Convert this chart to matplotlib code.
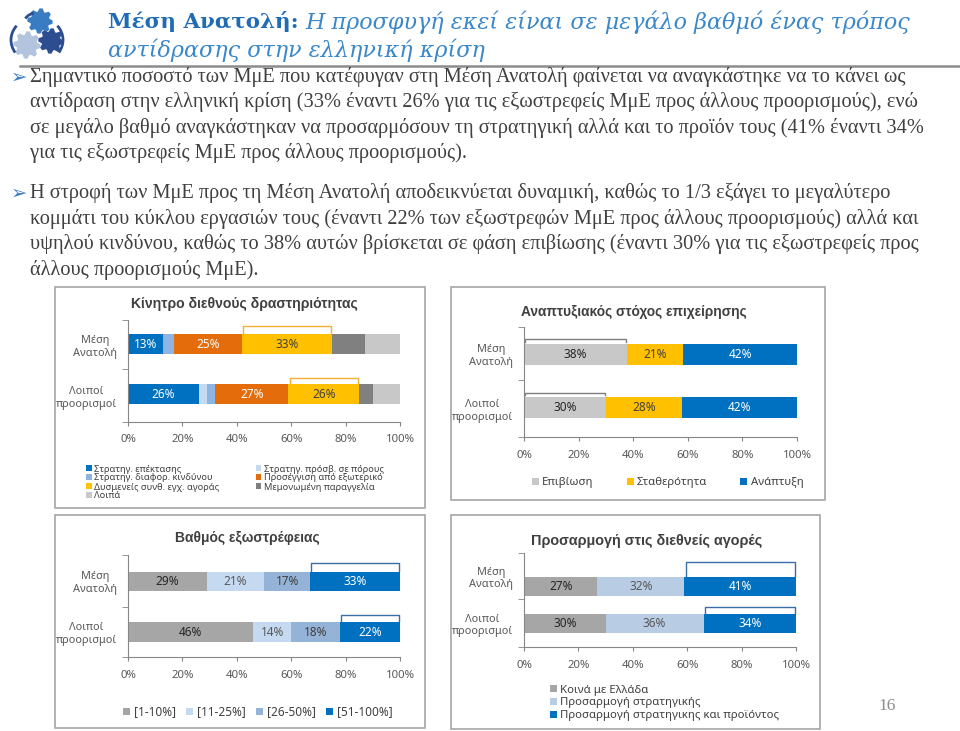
import numpy as np
import matplotlib
matplotlib.use("Agg")
import matplotlib.pyplot as plt
from matplotlib.patches import Rectangle, Polygon, Arc
from matplotlib.lines import Line2D

W, H = 960, 731

# ---- data ----
row_names = ["Μέση\nΑνατολή", "Λοιποί\nπροορισμοί"]

motive_series = ["Στρατηγ. επέκτασης", "Στρατηγ. πρόσβ. σε πόρους", "Στρατηγ. διαφορ. κινδύνου",
                 "Προσέγγιση από εξωτερικό", "Δυσμενείς συνθ. εγχ. αγοράς", "Μεμονωμένη παραγγελία", "Λοιπά"]
motive_me = [13, 0, 4, 25, 33, 12, 13]
motive_other = [26, 3, 3, 27, 26, 5, 10]

goal_series = ["Επιβίωση", "Σταθερότητα", "Ανάπτυξη"]
goal_me = [38, 21, 42]
goal_other = [30, 28, 42]

export_series = ["[1-10%]", "[11-25%]", "[26-50%]", "[51-100%]"]
export_me = [29, 21, 17, 33]
export_other = [46, 14, 18, 22]

adapt_series = ["Κοινά με Ελλάδα", "Προσαρμογή στρατηγικής", "Προσαρμογή στρατηγικης και προϊόντος"]
adapt_me = [27, 32, 41]
adapt_other = [30, 36, 34]

title_bold = "Μέση Ανατολή:"
title_it = ["Η προσφυγή εκεί είναι σε μεγάλο βαθμό ένας τρόπος", "αντίδρασης στην ελληνική κρίση"]

para1 = ["Σημαντικό ποσοστό των ΜμΕ που κατέφυγαν στη Μέση Ανατολή φαίνεται να αναγκάστηκε να το κάνει ως",
         "αντίδραση στην ελληνική κρίση (33% έναντι 26% για τις εξωστρεφείς ΜμΕ προς άλλους προορισμούς), ενώ",
         "σε μεγάλο βαθμό αναγκάστηκαν να προσαρμόσουν τη στρατηγική αλλά και το προϊόν τους (41% έναντι 34%",
         "για τις εξωστρεφείς ΜμΕ προς άλλους προορισμούς)."]
para2 = ["Η στροφή των ΜμΕ προς τη Μέση Ανατολή αποδεικνύεται δυναμική, καθώς το 1/3 εξάγει το μεγαλύτερο",
         "κομμάτι του κύκλου εργασιών τους (έναντι 22% των εξωστρεφών ΜμΕ προς άλλους προορισμούς) αλλά και",
         "υψηλού κινδύνου, καθώς το 38% αυτών βρίσκεται σε φάση επιβίωσης (έναντι 30% για τις εξωστρεφείς προς",
         "άλλους προορισμούς ΜμΕ)."]

plt.rcParams['font.family'] = ['Noto Sans', 'DejaVu Sans']
fig = plt.figure(figsize=(9.6, 7.31), dpi=100)
renderer = fig.canvas.get_renderer()


def fx(x):
    return x / W


def fy(y):
    return 1 - y / H


def px_axes(x0, y0, x1, y1):
    return fig.add_axes([fx(x0), fy(y1), (x1 - x0) / W, (y1 - y0) / H])


def fit(t, width):
    w = t.get_window_extent(renderer).width
    t.set_fontsize(t.get_fontsize() * width / w)
    return t.get_fontsize()


# ---- logo ----
lax = px_axes(0, 0, 70, 66)
lax.set_xlim(0, 70)
lax.set_ylim(66, 0)
lax.set_aspect('equal')
lax.axis('off')


def gear(cx, cy, r, color, teeth=8):
    a = np.linspace(0, 2 * np.pi, teeth * 4, endpoint=False)
    rr = np.where((np.arange(len(a)) // 2) % 2 == 0, r, r * 0.75)
    pts = np.c_[cx + rr * np.cos(a), cy + rr * np.sin(a)]
    lax.add_patch(Polygon(pts, closed=True, color=color))


gear(40, 21, 12, "#3A7CC2")
gear(27, 45, 13, "#B3C4DE")
gear(51, 41, 12, "#2C4D8F")
lax.add_patch(Arc((37, 40), 52, 46, theta1=150, theta2=215, color="#2C4D8F", lw=2))
lax.add_patch(Arc((37, 40), 52, 46, theta1=-35, theta2=30, color="#2C4D8F", lw=2))
lax.add_patch(Arc((36, 26), 26, 26, theta1=215, theta2=260, color="#2C4D8F", lw=2))

# ---- title ----
tb = fig.text(fx(108), fy(22), title_bold, family='DejaVu Serif', weight='bold', fontsize=16,
              color="#1F6CB5", va='center', ha='left')
fit(tb, 190)
ti1 = fig.text(fx(305), fy(22), title_it[0], family='DejaVu Serif', style='italic', fontsize=16,
               color="#3A87C9", va='center', ha='left')
sz = fit(ti1, 607)
fig.text(fx(108), fy(50), title_it[1], family='DejaVu Serif', style='italic', fontsize=sz,
         color="#3A87C9", va='center', ha='left')
fig.add_artist(Line2D([fx(20), fx(960)], [fy(66), fy(66)], color="#8C8C8C", lw=1.8))

# ---- paragraphs ----
p = fig.text(fx(30), fy(77), para1[0], family='Liberation Serif', fontsize=13, color="#404040",
             va='center', ha='left')
psz = fit(p, 872)
for i, line in enumerate(para1[1:]):
    fig.text(fx(30), fy(102 + 25.5 * i), line, family='Liberation Serif', fontsize=psz,
             color="#404040", va='center', ha='left')
for i, line in enumerate(para2):
    fig.text(fx(30), fy(193 + 25.7 * i), line, family='Liberation Serif', fontsize=psz,
             color="#404040", va='center', ha='left')
for yb in (77, 193):
    fig.text(fx(11), fy(yb), "➢", family=['DejaVu Sans'], fontsize=14, color="#3C7DC4",
             va='center', ha='left')
fig.text(fx(887), fy(706), "16", family='Liberation Serif', fontsize=12.5, color="#8C8C8C",
         va='center', ha='center')

# ---- panel boxes ----
for (x0, y0, x1, y1) in [(55, 287, 425, 508), (451, 287, 825, 500), (55, 515, 425, 728), (451, 515, 820, 729)]:
    fig.add_artist(Rectangle((fx(x0), fy(y1)), (x1 - x0) / W, (y1 - y0) / H, transform=fig.transFigure,
                             fill=False, edgecolor="#A6A6A6", lw=1.2))

DARK = "#404040"


def stacked(axpx, mid, bars, brk_y, series, rows, colors, tcolors, shown, bracket, bcolor):
    x0, y0, x1, y1 = axpx
    ax = px_axes(x0, y0, x1, y1)
    ax.set_xlim(0, 100)
    ax.set_ylim(y1, y0)
    handles = []
    for r, vals in enumerate(rows):
        top, bot = bars[r]
        yc = (top + bot) / 2
        tot = sum(vals)
        left = 0
        for i, v in enumerate(vals):
            w = v / tot * 100
            b = ax.barh(yc, w, height=bot - top, left=left, color=colors[i], linewidth=0)
            if r == 0:
                handles.append(b[0])
            if i in shown:
                ax.text(left + w / 2, yc, f"{v}%", ha='center', va='center', fontsize=8.5, color=tcolors[i])
            if i == bracket:
                yb = brk_y[r]
                ax.plot([left + 0.4, left + 0.4, left + w - 0.4, left + w - 0.4],
                        [top - 1.5, yb, yb, top - 1.5], color=bcolor, lw=1.0, clip_on=False)
            left += w
    for s in ('top', 'right'):
        ax.spines[s].set_visible(False)
    for s in ('left', 'bottom'):
        ax.spines[s].set_color("#868686")
        ax.spines[s].set_linewidth(0.8)
    ax.set_xticks(range(0, 101, 20))
    ax.set_xticklabels([f"{t}%" for t in range(0, 101, 20)])
    ax.tick_params(axis='x', length=3, color="#868686", labelsize=8.2, labelcolor="#595959", pad=6)
    ax.set_yticks([(y0 + mid) / 2, (mid + y1) / 2])
    ax.set_yticklabels(row_names, multialignment='center')
    ax.set_yticks([y0, mid, y1], minor=True)
    ax.tick_params(axis='y', which='major', length=0, labelsize=7.9, labelcolor="#595959", pad=8)
    ax.tick_params(axis='y', which='minor', length=4, color="#868686")
    return ax, handles


def chart_title(x, y, s, width):
    t = fig.text(fx(x), fy(y), s, ha='center', va='center', fontsize=10, weight='bold', color=DARK,
                 family='Liberation Sans')
    fit(t, width)


def legend(ax, handles, labels, x, y, ncol, size, loc='center left', **kw):
    ax.legend(handles, labels, loc=loc, bbox_to_anchor=(fx(x), fy(y)), bbox_transform=fig.transFigure,
              ncol=ncol, frameon=False, fontsize=size, handlelength=0.6, handleheight=0.6,
              handletextpad=0.3, borderpad=0, borderaxespad=0, labelcolor="#404040", **kw)


# top-left: motive
motive_colors = ["#0070C0", "#C5D9F1", "#8DB4E2", "#E46C0A", "#FFC000", "#808080", "#C8C8C8"]
motive_tc = ["white", DARK, DARK, "white", DARK, DARK, DARK]
chart_title(244, 304, "Κίνητρο διεθνούς δραστηριότητας", 227)
ax, hs = stacked((128, 320, 400, 422), 369, [(334, 354), (384, 404)], [326, 378], motive_series,
                 [motive_me, motive_other], motive_colors, motive_tc, [0, 3, 4], 4, "#F0B030")
order = [0, 2, 4, 6, 1, 3, 5]
legend(ax, [hs[i] for i in order], [motive_series[i] for i in order], 86, 482.5, 2, 6.7,
       labelspacing=0.0, columnspacing=3.9)

# top-right: goal
goal_colors = ["#C8C8C8", "#FFC000", "#0070C0"]
goal_tc = ["#262626", DARK, "white"]
chart_title(634, 312, "Αναπτυξιακός στόχος επιχείρησης", 225)
ax, hs = stacked((524, 327, 797, 437), 380, [(344, 365), (397, 418)], [339, 393], goal_series,
                 [goal_me, goal_other], goal_colors, goal_tc, [0, 1, 2], 0, "#7F7F7F")
legend(ax, hs, goal_series, 532, 483, 3, 8.2, columnspacing=2.9)

# bottom-left: export share
export_colors = ["#A6A6A6", "#C5D9F1", "#95B3D7", "#0070C0"]
export_tc = ["#262626", "#595959", DARK, "white"]
chart_title(247, 538, "Βαθμός εξωστρέφειας", 145)
ax, hs = stacked((128, 555, 400, 657), 607, [(572, 591), (622, 642)], [563, 615], export_series,
                 [export_me, export_other], export_colors, export_tc, [0, 1, 2, 3], 3, "#3A6EA5")
legend(ax, hs, export_series, 123, 712, 4, 8.5, columnspacing=0.9)

# bottom-right: adaptation
adapt_colors = ["#A6A6A6", "#B8CCE4", "#0070C0"]
adapt_tc = ["#262626", "#595959", "white"]
chart_title(647, 541, "Προσαρμογή στις διεθνείς αγορές", 231)
ax, hs = stacked((524, 553, 796, 647), 599, [(577, 596), (614, 633)], [562, 607], adapt_series,
                 [adapt_me, adapt_other], adapt_colors, adapt_tc, [0, 1, 2], 2, "#3A6EA5")
legend(ax, hs, adapt_series, 550, 703, 1, 8.2, labelspacing=0.15)

fig.savefig("out.png", dpi=100)
